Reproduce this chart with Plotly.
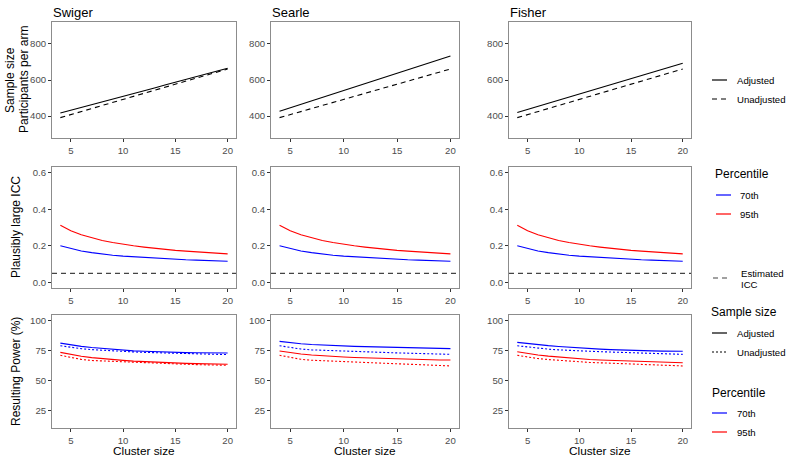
import plotly.graph_objects as go
from plotly.subplots import make_subplots

# ---------------- data ----------------
cluster_size = [4, 5, 6, 7, 8, 9, 10, 11, 12, 13, 14, 15, 16, 17, 18, 19, 20]
methods = ["Swiger", "Searle", "Fisher"]
x_ticks = [5, 10, 15, 20]

# Sample size (participants per arm)
ss_unadjusted = [391, 408, 425, 442, 459, 475, 492, 509, 526, 543, 560, 577, 594, 610, 627, 644, 661]
ss_adjusted_swiger = [417, 432, 448, 463, 479, 494, 510, 525, 541, 556, 572, 587, 603, 618, 634, 649, 665]
ss_adjusted_searle = [426, 445, 464, 484, 503, 522, 541, 560, 580, 599, 618, 637, 656, 676, 695, 714, 733]
ss_adjusted_fisher = [420, 437, 454, 471, 488, 505, 522, 539, 556, 574, 591, 608, 625, 642, 659, 676, 693]
ss_ticks = [400, 600, 800]

# Plausibly large ICC
icc_70th = [0.200, 0.184, 0.172, 0.163, 0.155, 0.149, 0.144, 0.140, 0.136, 0.132, 0.129, 0.127, 0.124, 0.122, 0.120, 0.118, 0.116]
icc_95th = [0.312, 0.282, 0.260, 0.243, 0.229, 0.218, 0.208, 0.200, 0.193, 0.186, 0.181, 0.175, 0.171, 0.167, 0.163, 0.159, 0.156]
icc_estimated = 0.05
icc_ticks = [0.0, 0.2, 0.4, 0.6]

# Resulting power (%)
pw_swiger_70_adj = [81.0, 79.5, 78.3, 77.3, 76.5, 75.8, 75.2, 74.6, 74.2, 73.8, 73.5, 73.3, 73.1, 73.0, 72.9, 72.8, 72.8]
pw_swiger_70_unadj = [78.8, 77.5, 76.4, 75.6, 75.0, 74.5, 74.1, 73.7, 73.3, 73.0, 72.8, 72.5, 72.3, 72.1, 71.9, 71.7, 71.5]
pw_swiger_95_adj = [73.3, 71.6, 70.1, 69.0, 68.1, 67.3, 66.7, 66.1, 65.6, 65.2, 64.8, 64.5, 64.2, 64.0, 63.8, 63.6, 63.5]
pw_swiger_95_unadj = [70.9, 69.0, 67.5, 66.6, 66.2, 66.0, 65.8, 65.4, 65.0, 64.6, 64.2, 63.9, 63.5, 63.2, 63.0, 62.8, 62.6]

pw_searle_70_adj = [82.4, 81.3, 80.4, 79.8, 79.3, 78.9, 78.6, 78.3, 78.1, 77.9, 77.7, 77.5, 77.4, 76.6, 76.5, 76.4, 76.4]
pw_searle_70_unadj = [78.8, 77.3, 76.1, 75.4, 75.0, 74.7, 74.5, 74.2, 73.8, 73.5, 73.2, 72.9, 72.7, 72.4, 72.1, 71.9, 71.7]
pw_searle_95_adj = [74.5, 73.1, 72.0, 71.2, 70.5, 70.0, 69.5, 69.1, 68.8, 68.5, 68.3, 68.1, 67.9, 67.1, 67.0, 67.0, 67.0]
pw_searle_95_unadj = [70.9, 69.0, 67.6, 66.8, 66.4, 66.1, 65.9, 65.5, 65.1, 64.7, 64.3, 64.0, 63.4, 62.7, 62.5, 62.3, 62.1]

pw_fisher_70_adj = [81.6, 80.5, 79.6, 78.9, 78.2, 77.5, 76.9, 76.4, 76.0, 75.6, 75.2, 75.2, 74.8, 74.6, 74.4, 74.3, 74.2]
pw_fisher_70_unadj = [78.8, 77.7, 76.7, 76.0, 75.4, 74.9, 74.5, 74.2, 73.9, 73.6, 73.3, 73.1, 72.8, 72.5, 72.2, 71.9, 71.7]
pw_fisher_95_adj = [73.9, 72.4, 71.1, 70.2, 69.4, 68.6, 67.9, 67.4, 67.0, 66.7, 66.4, 66.3, 65.8, 65.5, 65.2, 65.0, 64.8]
pw_fisher_95_unadj = [70.9, 69.4, 68.2, 67.4, 66.7, 66.0, 65.4, 65.0, 64.7, 64.4, 64.2, 64.0, 63.5, 63.1, 62.7, 62.4, 62.1]
pw_ticks = [25, 50, 75, 100]

ss_adjusted = [ss_adjusted_swiger, ss_adjusted_searle, ss_adjusted_fisher]
power = [
    (pw_swiger_70_adj, pw_swiger_70_unadj, pw_swiger_95_adj, pw_swiger_95_unadj),
    (pw_searle_70_adj, pw_searle_70_unadj, pw_searle_95_adj, pw_searle_95_unadj),
    (pw_fisher_70_adj, pw_fisher_70_unadj, pw_fisher_95_adj, pw_fisher_95_unadj),
]

# ---------------- style ----------------
W, H = 787, 459
FONT = "Liberation Sans, Arial, sans-serif"
BLUE = "#0000FF"
RED = "#FF0000"
BLACK = "#000000"
LW = 1.1
DASH = "5px,4px"
DOT = "2px,2px"

col_px = [(52, 236), (271, 459), (509, 691)]
row_px = [(22, 138), (167, 288), (315, 428)]


def px_x(x):
    return x / W


def px_y(y):
    return 1 - y / H


fig = make_subplots(rows=3, cols=3)

for c in range(3):
    # row 1: sample size
    fig.add_trace(go.Scatter(x=cluster_size, y=ss_adjusted[c], mode="lines",
                             line=dict(color=BLACK, width=LW), showlegend=False), row=1, col=c + 1)
    fig.add_trace(go.Scatter(x=cluster_size, y=ss_unadjusted, mode="lines",
                             line=dict(color=BLACK, width=LW, dash=DASH), showlegend=False), row=1, col=c + 1)
    # row 2: ICC
    fig.add_trace(go.Scatter(x=cluster_size, y=icc_70th, mode="lines",
                             line=dict(color=BLUE, width=LW), showlegend=False), row=2, col=c + 1)
    fig.add_trace(go.Scatter(x=cluster_size, y=icc_95th, mode="lines",
                             line=dict(color=RED, width=LW), showlegend=False), row=2, col=c + 1)
    # row 3: power
    p70a, p70u, p95a, p95u = power[c]
    fig.add_trace(go.Scatter(x=cluster_size, y=p70a, mode="lines",
                             line=dict(color=BLUE, width=LW), showlegend=False), row=3, col=c + 1)
    fig.add_trace(go.Scatter(x=cluster_size, y=p70u, mode="lines",
                             line=dict(color=BLUE, width=LW, dash=DOT), showlegend=False), row=3, col=c + 1)
    fig.add_trace(go.Scatter(x=cluster_size, y=p95a, mode="lines",
                             line=dict(color=RED, width=LW), showlegend=False), row=3, col=c + 1)
    fig.add_trace(go.Scatter(x=cluster_size, y=p95u, mode="lines",
                             line=dict(color=RED, width=LW, dash=DOT), showlegend=False), row=3, col=c + 1)

y_ranges = [[278, 922], [-0.03, 0.63], [10.75, 104.25]]
y_tickvals = [ss_ticks, icc_ticks, pw_ticks]
y_fmt = ["d", ".1f", "d"]

axis_common = dict(showline=True, mirror=True, linecolor="#8c8c8c", linewidth=1,
                   ticks="outside", ticklen=3, tickwidth=1, tickcolor="#333333",
                   showgrid=False, zeroline=False,
                   tickfont=dict(family=FONT, size=9.6, color="#4d4d4d"))

for r in range(3):
    for c in range(3):
        idx = r * 3 + c + 1
        xa = "xaxis" if idx == 1 else f"xaxis{idx}"
        ya = "yaxis" if idx == 1 else f"yaxis{idx}"
        fig.layout[xa].update(domain=[px_x(col_px[c][0]), px_x(col_px[c][1])],
                              range=[3.2, 20.8], tickvals=x_ticks, **axis_common)
        fig.layout[ya].update(domain=[px_y(row_px[r][1]), px_y(row_px[r][0])],
                              range=y_ranges[r], tickvals=y_tickvals[r],
                              tickformat=y_fmt[r], **axis_common)

# estimated ICC reference line in each ICC panel
for c in range(3):
    idx = 3 + c + 1
    fig.add_shape(type="line", xref=f"x{idx} domain", yref=f"y{idx}",
                  x0=0, x1=1, y0=icc_estimated, y1=icc_estimated,
                  line=dict(color="#444444", width=1.3, dash=DASH))

annotations = []


def text(t, x, y, size, color="#000000", xanchor="left", angle=0, yanchor="middle"):
    annotations.append(dict(text=t, x=px_x(x), y=px_y(y), xref="paper", yref="paper",
                            showarrow=False, xanchor=xanchor, yanchor=yanchor,
                            textangle=angle, borderpad=0,
                            font=dict(family=FONT, size=size, color=color)))


# panel titles
for c, m in enumerate(methods):
    text(m, col_px[c][0], 12, 13)
# x axis titles (anchored to the bottom edge of the page)
for c in range(3):
    text("Cluster size", (col_px[c][0] + col_px[c][1]) / 2, 459, 11.8,
         xanchor="center", yanchor="bottom")
# y axis titles
text("Sample size", 10, 80, 12, xanchor="center", angle=-90)
text("Participants per arm", 24, 80, 12, xanchor="center", angle=-90)
text("Plausibly large ICC", 16, 227, 12, xanchor="center", angle=-90)
text("Resulting Power (%)", 16, 372, 12, xanchor="center", angle=-90)

# legends (keys drawn as shapes, labels as text)
shapes = []


def key(x0, x1, y, color, dash=None, width=1.2):
    ln = dict(color=color, width=width)
    if dash:
        ln["dash"] = dash
    shapes.append(dict(type="line", xref="paper", yref="paper",
                       x0=px_x(x0), x1=px_x(x1), y0=px_y(y), y1=px_y(y), line=ln))


key(712, 727, 80, BLACK)
text("Adjusted", 736, 80, 9.6)
key(712, 727, 99, BLACK, DASH)
text("Unadjusted", 736, 99, 9.6)

text("Percentile", 714, 174, 12)
key(716, 731, 195, BLUE)
text("70th", 739, 195, 9.6)
key(716, 731, 214, RED)
text("95th", 739, 214, 9.6)

key(713, 727, 278, "#444444", DASH)
text("Estimated", 740, 273, 9.6)
text("ICC", 740, 284, 9.6)

text("Sample size", 710, 312, 12)
key(712, 727, 333, BLACK)
text("Adjusted", 736, 333, 9.6)
key(712, 727, 352, BLACK, DOT)
text("Unadjusted", 736, 352, 9.6)

text("Percentile", 711, 393, 12)
key(712, 727, 413, BLUE)
text("70th", 736, 413, 9.6)
key(712, 727, 432, RED)
text("95th", 736, 432, 9.6)

fig.update_layout(width=W, height=H, margin=dict(l=0, r=0, t=0, b=0),
                  paper_bgcolor="white", plot_bgcolor="white",
                  showlegend=False, annotations=annotations)
for s in shapes:
    fig.add_shape(**s)

fig.write_html("out.html", config={"displayModeBar": False},
               post_script="document.body.style.margin='0';document.body.style.overflow='hidden';")
